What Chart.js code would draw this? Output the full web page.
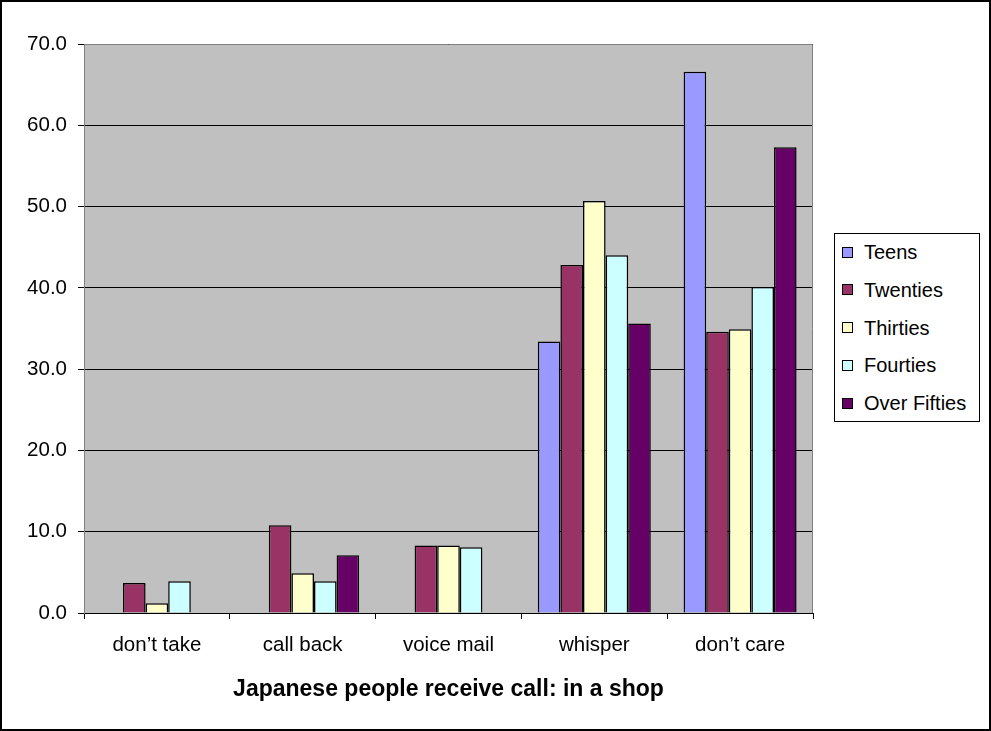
<!DOCTYPE html>
<html>
<head>
<meta charset="utf-8">
<script src="https://cdn.jsdelivr.net/npm/chart.js@4.4.1/dist/chart.umd.min.js"></script>
<style>
  html, body { margin: 0; padding: 0; background: #fff; }
  #wrap { position: relative; width: 991px; height: 731px; overflow: hidden; }
  #c { position: absolute; left: 0; top: 0; }
  #legend {
    position: absolute; left: 834px; top: 233px; width: 146px; height: 189px;
    border: 1px solid #000; background: #fff; box-sizing: border-box;
    font-family: "Liberation Sans", Arial, sans-serif; font-size: 20px; color: #000;
  }
  .item { position: absolute; left: 7px; height: 24px; line-height: 24px; display: flex; align-items: center; white-space: nowrap; }
  .sw { width: 9px; height: 9px; border: 1px solid #000; margin-right: 11px; }
</style>
</head>
<body>
<div id="wrap">
  <canvas id="c" width="991" height="731"></canvas>
  <div id="legend"></div>
</div>
<script>
// Survey categories and age-group results (%)
const categories = ["don\u2019t take", "call back", "voice mail", "whisper", "don\u2019t care"];
const seriesNames = ["Teens", "Twenties", "Thirties", "Fourties", "Over Fifties"];
const teens       = [0,   0,    0,   33.4, 66.6];
const twenties    = [3.7, 10.8, 8.3, 42.8, 34.6];
const thirties    = [1.2, 4.9,  8.3, 50.7, 34.9];
const fourties    = [3.9, 3.9,  8.1, 44.0, 40.1];
const overFifties = [0,   7.1,  0,   35.6, 57.3];
const axisTitle = "Japanese people receive call: in a shop";

const seriesValues = [teens, twenties, thirties, fourties, overFifties];
const seriesColors = ["#9999FF", "#993366", "#FFFFCC", "#CCFFFF", "#660066"];
const FONT = '"Liberation Sans", Arial, sans-serif';

const datasets = seriesNames.map((name, i) => ({
  label: name,
  data: seriesValues[i],
  backgroundColor: seriesColors[i],
  borderColor: "#000",
  borderWidth: 1.5,
  borderSkipped: "start",
  categoryPercentage: 0.775,
  barPercentage: 1.0
}));

// Grey plot background and frame, plus the outer border of the figure
const frame = {
  id: "frame",
  beforeDraw(chart) {
    const { ctx, chartArea: a } = chart;
    ctx.save();
    ctx.fillStyle = "#C0C0C0";
    ctx.fillRect(a.left, a.top, a.right - a.left, a.bottom - a.top);
    ctx.restore();
  },
  afterDraw(chart) {
    const { ctx, chartArea: a } = chart;
    ctx.save();
    ctx.strokeStyle = "#808080";
    ctx.lineWidth = 1;
    ctx.beginPath();
    ctx.moveTo(a.left + 0.5, a.top + 0.5);
    ctx.lineTo(a.right - 0.5, a.top + 0.5);
    ctx.lineTo(a.right - 0.5, a.bottom);
    ctx.stroke();
    ctx.strokeStyle = "#000";
    ctx.lineWidth = 2;
    ctx.strokeRect(1, 1, chart.width - 2, chart.height - 2);
    ctx.restore();
  }
};

new Chart(document.getElementById("c"), {
  type: "bar",
  data: { labels: categories, datasets },
  options: {
    responsive: false,
    animation: false,
    layout: { padding: { left: 0, top: 44, right: 178, bottom: 0 } },
    plugins: { legend: { display: false }, tooltip: { enabled: false } },
    scales: {
      x: {
        afterFit(s) { s.height = 118; },
        grid: { offset: true, drawOnChartArea: false, color: "#000", tickLength: 6 },
        border: { color: "#000", width: 1 },
        ticks: { color: "#000", padding: 14, font: { family: FONT, size: 20.5 } },
        title: {
          display: true, text: axisTitle, color: "#000",
          padding: { top: 0, bottom: 28 },
          font: { family: FONT, size: 23, weight: "bold" }
        }
      },
      y: {
        min: 0, max: 70,
        afterFit(s) { s.width = 84; },
        grid: { color: "#000", tickLength: 6 },
        border: { color: "#808080", width: 1 },
        ticks: {
          stepSize: 10, color: "#000", padding: 11,
          font: { family: FONT, size: 20.5 },
          callback: v => Number(v).toFixed(1)
        }
      }
    }
  },
  plugins: [frame]
});

// Legend box
const legend = document.getElementById("legend");
seriesNames.forEach((name, i) => {
  const row = document.createElement("div");
  row.className = "item";
  row.style.top = (6 + i * 37.8) + "px";
  const sw = document.createElement("span");
  sw.className = "sw";
  sw.style.background = seriesColors[i];
  const tx = document.createElement("span");
  tx.textContent = name;
  row.appendChild(sw);
  row.appendChild(tx);
  legend.appendChild(row);
});
</script>
</body>
</html>
